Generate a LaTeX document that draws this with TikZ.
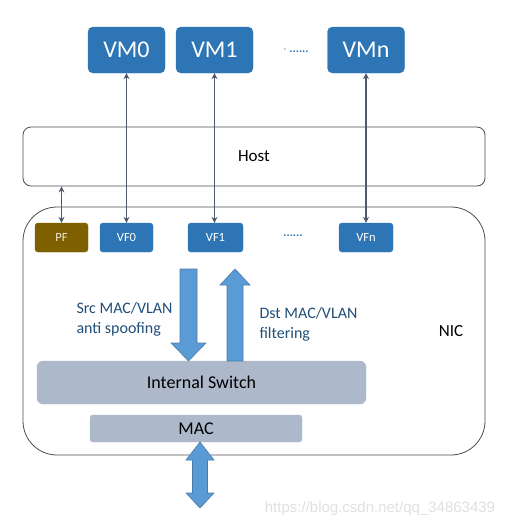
\documentclass[tikz,border=0pt]{standalone}
\usepackage{fontspec}
\setmainfont{Carlito}
\newfontfamily\wmfont{Liberation Sans}
\usetikzlibrary{arrows.meta}
\definecolor{vmblue}{HTML}{2E75B6}
\definecolor{pfbrown}{HTML}{7F6000}
\definecolor{swgray}{HTML}{ADB9CA}
\definecolor{lightblue}{HTML}{5B9BD5}
\definecolor{linegray}{HTML}{4F5B6B}
\definecolor{textblue}{HTML}{1F4E79}
\tikzset{
  vmbox/.style={fill=vmblue,draw=vmblue,rounded corners=5pt,minimum width=77pt,minimum height=46pt,text=white,font=\fontsize{24}{28}\selectfont},
  fnbox/.style={fill=vmblue,draw=vmblue,rounded corners=3pt,minimum height=29pt,text=white,font=\fontsize{12.5}{14}\selectfont},
  graybox/.style={fill=swgray,draw=swgray,rounded corners=6pt},
  link/.style={{Stealth[length=6pt,width=6pt]}-{Stealth[length=6pt,width=6pt]},draw=linegray,line width=1.2pt},
  frame/.style={draw=black!70,line width=0.8pt},
  blockarrow/.style={fill=lightblue,draw=lightblue!80!black,line width=0.6pt}
}
\begin{document}
\begin{tikzpicture}[x=1pt,y=-1pt]
  \useasboundingbox (0,0) rectangle (512,528);
  % host and nic frames
  \node[frame,rounded corners=8pt,minimum width=462pt,minimum height=59pt,font=\fontsize{17}{20}\selectfont] (host) at (254,156.5) {Host};
  \node[frame,rounded corners=34pt,minimum width=462pt,minimum height=248pt] (nic) at (254,331) {};
  \node[font=\fontsize{17}{20}\selectfont] (nicl) at (451,331) {NIC};
  % virtual machines
  \node[vmbox] (vm0) at (126.5,50) {VM0};
  \node[vmbox] (vm1) at (214.5,50) {VM1};
  \node[vmbox] (vmn) at (366,50) {VMn};
  \node[text=vmblue,font=\fontsize{12}{14}\selectfont\bfseries] (vmdots) at (296,50) {$\cdot$ ......};
  % functions
  \node[fnbox,fill=pfbrown,draw=pfbrown,text=white!85!pfbrown,minimum width=53pt] (pf) at (61.5,237.5) {PF};
  \node[fnbox,minimum width=53pt] (vf0) at (126.5,237.5) {VF0};
  \node[fnbox,minimum width=55pt] (vf1) at (215.5,237.5) {VF1};
  \node[fnbox,minimum width=54pt] (vfn) at (366,237.5) {VFn};
  \node[text=vmblue,font=\fontsize{12}{14}\selectfont\bfseries] (vfdots) at (293,236) {......};
  % switch and mac
  \node[graybox,minimum width=329pt,minimum height=43pt,font=\fontsize{18}{20}\selectfont] (sw) at (201.5,382.5) {Internal Switch};
  \node[graybox,rounded corners=3pt,minimum width=212pt,minimum height=27pt,font=\fontsize{18}{20}\selectfont] (mac) at (196,428.5) {MAC};
  % links
  \draw[link] (vm0.south) -- (vf0.north);
  \draw[link] (vm1.south) -- (vm1.south |- vf1.north);
  \draw[link] (vmn.south) -- (vfn.north);
  \draw[link] (pf.north) -- (pf.north |- host.south);
  % block arrows
  \draw[blockarrow] (180,269) -- (197,269) -- (197,343) -- (206,343) -- (188.5,361) -- (171,343) -- (180,343) -- cycle;
  \draw[blockarrow] (227,361) -- (243,361) -- (243,285) -- (250,285) -- (235,269) -- (220,285) -- (227,285) -- cycle;
  \draw[blockarrow] (200,442) -- (214,460) -- (207.5,460) -- (207.5,493) -- (214,493) -- (200,508) -- (186,493) -- (192.5,493) -- (192.5,460) -- (186,460) -- cycle;
  \node[anchor=west,align=left,text=textblue,font=\fontsize{16}{20}\selectfont] (src) at (73,319) {Src MAC/VLAN\\anti spoofing};
  \node[anchor=west,align=left,text=textblue,font=\fontsize{16}{20}\selectfont] (dst) at (256,324) {Dst MAC/VLAN\\filtering};
  \node[text=black!12,font=\wmfont\fontsize{15}{17}\selectfont] (wm) at (380,509) {https://blog.csdn.net/qq\_34863439};
\end{tikzpicture}
\end{document}
